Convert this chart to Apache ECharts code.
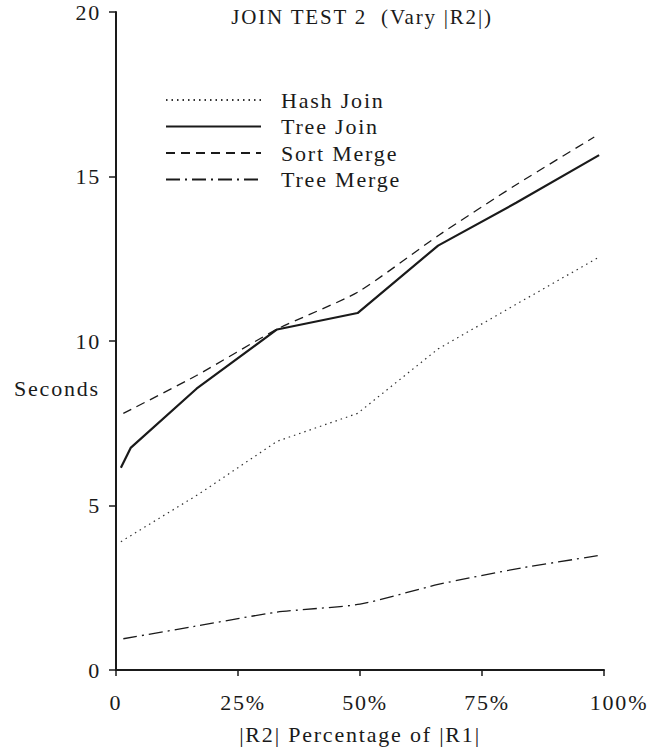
<!DOCTYPE html>
<html>
<head>
<meta charset="utf-8">
<script src="https://cdn.jsdelivr.net/npm/echarts@6/dist/echarts.min.js"></script>
<style>
  html, body { margin: 0; padding: 0; background: #fff; }
  #chart { width: 664px; height: 750px; }
  /* the scanned type is widely tracked */
  #chart text { letter-spacing: 1.8px; white-space: pre; font-family: "Liberation Serif", "Times New Roman", serif !important; }
</style>
</head>
<body>
<div id="chart"></div>
<script>
// values: [ |R2| as % of |R1|, seconds ]
var seriesNames = ["Hash Join", "Tree Join", "Sort Merge", "Tree Merge"];
var hashJoin = [[1, 3.9], [17, 5.35], [33, 6.95], [49.5, 7.8], [66, 9.76], [83, 11.2], [99, 12.55]];
var treeJoin = [[1, 6.15], [3, 6.75], [16.5, 8.55], [33, 10.35], [49.5, 10.85], [66, 12.9], [82, 14.2], [99, 15.65]];
var sortMerge = [[1.5, 7.8], [16.5, 8.95], [33, 10.36], [49.5, 11.48], [66, 13.2], [82, 14.75], [98, 16.2]];
var treeMerge = [[1.5, 0.95], [17, 1.35], [33, 1.76], [50, 2.0], [66, 2.6], [83, 3.1], [99, 3.48]];
var xTicks = [0, 25, 50, 75, 100];
var yTicks = [0, 5, 10, 15, 20];

var serif = "'Liberation Serif', 'Times New Roman', serif";
var ink = "#1a1a1a";

var chart = echarts.init(document.getElementById("chart"), null, { renderer: "svg" });

chart.setOption({
  backgroundColor: "#fff",
  animation: false,
  title: {
    text: "JOIN TEST 2  (Vary |R2|)",
    left: 357,
    top: 1,
    textAlign: "center",
    textStyle: { fontFamily: serif, fontSize: 21, fontWeight: "normal", color: ink }
  },
  legend: {
    data: seriesNames,
    orient: "vertical",
    left: 160,
    top: 84,
    itemWidth: 95,
    itemHeight: 10,
    itemGap: 4.5,
    itemStyle: { opacity: 0 },
    textStyle: { fontFamily: serif, fontSize: 22, color: ink, lineHeight: 22, padding: [0, 0, 0, 15] }
  },
  graphic: [
    {
      type: "text",
      left: 14,
      top: 377,
      style: { text: "Seconds", font: "22px " + serif, fill: ink }
    }
  ],
  grid: { left: 116, right: 60, top: 12, bottom: 78 },
  xAxis: {
    type: "value",
    min: xTicks[0],
    max: xTicks[xTicks.length - 1],
    interval: 25,
    name: "|R2| Percentage of |R1|",
    nameLocation: "middle",
    nameGap: 53,
    nameTextStyle: { fontFamily: serif, fontSize: 22, color: ink },
    splitLine: { show: false },
    axisLine: { lineStyle: { color: ink, width: 2 } },
    axisTick: { length: 6, lineStyle: { color: ink, width: 1.5 } },
    axisLabel: {
      margin: 21,
      formatter: function (v) {
        if (v === 0) return "{z|0}";
        if (v === 100) return "{e|100%}";
        return "{p|" + v + "%}";
      },
      rich: {
        z: { fontFamily: serif, fontSize: 22, color: ink },
        p: { fontFamily: serif, fontSize: 22, color: ink, padding: [0, 0, 0, 10] },
        e: { fontFamily: serif, fontSize: 22, color: ink, padding: [0, 0, 0, 30] }
      }
    }
  },
  yAxis: {
    type: "value",
    min: yTicks[0],
    max: yTicks[yTicks.length - 1],
    interval: 5,
    splitLine: { show: false },
    axisLine: { show: true, lineStyle: { color: ink, width: 2 } },
    axisTick: { show: true, length: 7, lineStyle: { color: ink, width: 1.5 } },
    axisLabel: { margin: 15, fontFamily: serif, fontSize: 22, color: ink }
  },
  series: [
    {
      name: seriesNames[0],
      type: "line",
      data: hashJoin,
      symbol: "none",
      itemStyle: { color: "#333" },
      lineStyle: { color: "#333", width: 1.2, type: [1.5, 4] }
    },
    {
      name: seriesNames[1],
      type: "line",
      data: treeJoin,
      symbol: "none",
      itemStyle: { color: ink },
      lineStyle: { color: ink, width: 2.2, type: "solid" }
    },
    {
      name: seriesNames[2],
      type: "line",
      data: sortMerge,
      symbol: "none",
      smooth: 0.2,
      itemStyle: { color: ink },
      lineStyle: { color: ink, width: 1.3, type: [9, 6] }
    },
    {
      name: seriesNames[3],
      type: "line",
      data: treeMerge,
      symbol: "none",
      smooth: 0.2,
      itemStyle: { color: ink },
      lineStyle: { color: ink, width: 1.3, type: [14, 5, 2, 5] }
    }
  ]
});
</script>
</body>
</html>
